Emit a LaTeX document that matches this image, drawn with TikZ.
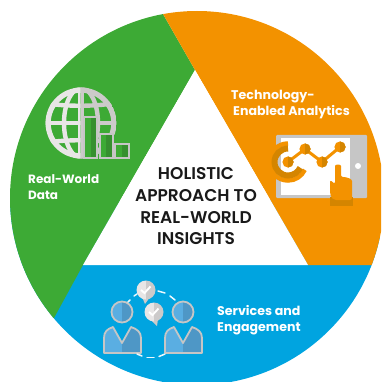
\documentclass[tikz,border=0pt]{standalone}
\usepackage{fontspec}
\setmainfont{Poppins}
\newfontfamily\medfont{Poppins SemiBold}
\definecolor{cgreen}{HTML}{3DAA35}
\definecolor{cgreend}{HTML}{36902F}
\definecolor{corange}{HTML}{F39200}
\definecolor{corangd}{HTML}{D48500}
\definecolor{cblue}{HTML}{00A4E0}
\definecolor{pl}{HTML}{5AAEE2}
\definecolor{pd}{HTML}{4E97C6}
\definecolor{gl}{HTML}{E8E6E6}
\definecolor{gd}{HTML}{CCCACA}
\definecolor{gb}{HTML}{C6C6C6}
\tikzset{
  whitelabel/.style={text=white,font=\fontsize{12.6}{16}\selectfont\bfseries,inner sep=0pt,anchor=base west},
  centerlabel/.style={text=black!90,font=\medfont\fontsize{17}{20}\selectfont,inner sep=0pt,anchor=base},
  dashlink/.style={draw=white!92!cblue,line width=1.5pt,line cap=round},
  gridline/.style={line width=4.4pt},
}
\newcommand{\personicon}[1]{%
 \begin{scope}[xshift=#1 pt]
  \begin{scope}
   \clip (0,300) rectangle (122,360);
   \fill[pl] (122,312) circle[radius=10];
   \fill[pl] (104,353) -- (104,338) .. controls (104,332) and (107,329) .. (113,327) -- (122,343) -- (122,353) -- cycle;
  \end{scope}
  \begin{scope}
   \clip (122,300) rectangle (150,360);
   \fill[pd] (122,312) circle[radius=10];
   \fill[pd] (122,353) -- (122,343) -- (131,327) .. controls (137,329) and (141,332) .. (141,338) -- (141,353) -- cycle;
  \end{scope}
  \draw[gb,line width=1.8pt] (122,312) circle[radius=10.5];
  \draw[gb,line width=1.8pt,line join=round] (104,353) -- (104,338) .. controls (104,332) and (107,329) .. (113,327) -- (122,343) -- (131,327) .. controls (137,329) and (141,332) .. (141,338) -- (141,353) -- cycle;
 \end{scope}}
\newcommand{\bubbleicon}[3]{%
 \begin{scope}[shift={(#1,#2)}]
  \fill[gd] (-4,7) -- (#3,14) -- (4,7) -- cycle;
  \begin{scope}\clip (-12,-12) rectangle (0,12); \fill[gl] (0,0) circle[radius=9.5]; \end{scope}
  \begin{scope}\clip (0,-12) rectangle (12,12); \fill[gd] (0,0) circle[radius=9.5]; \end{scope}
  \draw[white,line width=1.9pt] (-5,0) -- (-1.5,3) -- (4.5,-3.5);
 \end{scope}}
\begin{document}
\begin{tikzpicture}[x=1pt,y=-1pt]
\useasboundingbox (0,0) rectangle (381,382);
\clip (0,0) rectangle (381,382);
% disc
\begin{scope}
 \clip (197,198) circle[radius=187];
 \fill[cblue] (0,200) rectangle (381,382);
 \fill[cgreen] (163,14) -- (195,70) -- (83,265) -- (54,318) -- (0,318) -- (0,0) -- (163,0) -- cycle;
 \fill[corange] (163,14) -- (195,70) -- (308,265) -- (381,265) -- (381,0) -- (163,0) -- cycle;
 \fill[white] (195,70) -- (308,265) -- (83,265) -- cycle;
\end{scope}
% globe
\begin{scope}
 \clip (81,123) circle[radius=35.5];
 \begin{scope}
  \clip (40,80) rectangle (80.5,165);
  \draw[gl,line width=5.5pt] (81,123) circle[radius=33];
  \draw[gl,gridline] (81,123) ellipse[x radius=17,y radius=35];
  \draw[gl,gridline] (40,123) -- (120,123);
  \draw[gl,gridline] (40,144) .. controls (60,139) and (100,139) .. (120,144);
  \draw[gl,gridline] (40,102) .. controls (60,107) and (100,107) .. (120,102);
  \fill[gl] (77.5,85) rectangle (81,165);
 \end{scope}
 \begin{scope}
  \clip (80.5,80) rectangle (120,165);
  \draw[gd,line width=5.5pt] (81,123) circle[radius=33];
  \draw[gd,gridline] (81,123) ellipse[x radius=17,y radius=35];
  \draw[gd,gridline] (40,123) -- (120,123);
  \draw[gd,gridline] (40,144) .. controls (60,139) and (100,139) .. (120,144);
  \draw[gd,gridline] (40,102) .. controls (60,107) and (100,107) .. (120,102);
  \fill[gd] (81,85) rectangle (84,165);
 \end{scope}
\end{scope}
% bars
\fill[cgreen] (84,117) rectangle (91,158);
\fill[cgreend] (91,117) rectangle (97,158);
\draw[gb,line width=1.5pt] (84,117) rectangle (97,158);
\fill[cgreen] (100,134) rectangle (106,158);
\fill[cgreend] (106,134) rectangle (113,158);
\draw[gb,line width=1.5pt] (100,134) rectangle (113,158);
\fill[cgreen] (115,144) rectangle (122,158);
\fill[cgreend] (122,144) rectangle (129,158);
\draw[gb,line width=1.5pt] (115,144) rectangle (129,158);
% tablet
\fill[gb,rounded corners=1pt] (276,135) rectangle (367,198);
\fill[white] (281,138) rectangle (350,195);
\fill[white] (358,166) circle[radius=3];
% gauge
\draw[corange,line width=4.5pt] (288,162) ++(-90:18.5) arc[start angle=-90,end angle=-335,radius=18.5];
\draw[corangd,line width=6pt] (288,162) ++(-90:13.5) arc[start angle=-90,end angle=-335,radius=13.5];
% chart
\draw[corange,line width=3pt] (288,162) -- (305,149) -- (322,162) -- (340,147);
\foreach \px/\py in {288/162,305/149,322/162,340/147}{
 \fill[corange] (\px,\py) circle[radius=5.6];
 \begin{scope}\clip (\px,\py-7) rectangle (\px+7,\py+7);
  \fill[corangd] (\px,\py) circle[radius=5.6];
 \end{scope}
}
% hand
\fill[corangd] (330,197) rectangle (353,206);
\fill[corange,rounded corners=2pt] (335,168) .. controls (335,164) and (341,164) .. (341,168) -- (341,177) .. controls (347,177) and (352,179) .. (352,183) -- (352,200) -- (334,200) .. controls (331,197) and (330,194) .. (330,190) -- (330,180) -- (335,184) -- cycle;
% people
\personicon{0}
\personicon{61}
\bubbleicon{146}{290}{-1}
\bubbleicon{154}{312}{3}
\draw[dashlink] (128,302) -- (130,300);
\draw[dashlink] (134,296) -- (137,294);
\draw[dashlink] (158,291) -- (165,293);
\draw[dashlink] (170,296) -- (175,300);
\draw[dashlink] (137,354) -- (142,356);
\draw[dashlink] (147,357.5) -- (154,357.5);
\draw[dashlink] (159,356.5) -- (165,354);
% labels
\node[whitelabel] (t1) at (231,99.5) {Technology-};
\node[whitelabel] (t2) at (233,115.7) {Enabled Analytics};
\node[whitelabel,font=\fontsize{12}{16}\selectfont\bfseries] (r1) at (28,183) {Real-World};
\node[whitelabel,font=\fontsize{12}{16}\selectfont\bfseries] (r2) at (28,199) {Data};
\node[whitelabel] (s1) at (217,315) {Services and};
\node[whitelabel] (s2) at (217,331) {Engagement};
\node[centerlabel] (c1) at (196,179) {HOLISTIC};
\node[centerlabel] (c2) at (196,201) {APPROACH TO};
\node[centerlabel] (c3) at (196,223) {REAL-WORLD};
\node[centerlabel] (c4) at (196,244) {INSIGHTS};
\end{tikzpicture}
\end{document}
